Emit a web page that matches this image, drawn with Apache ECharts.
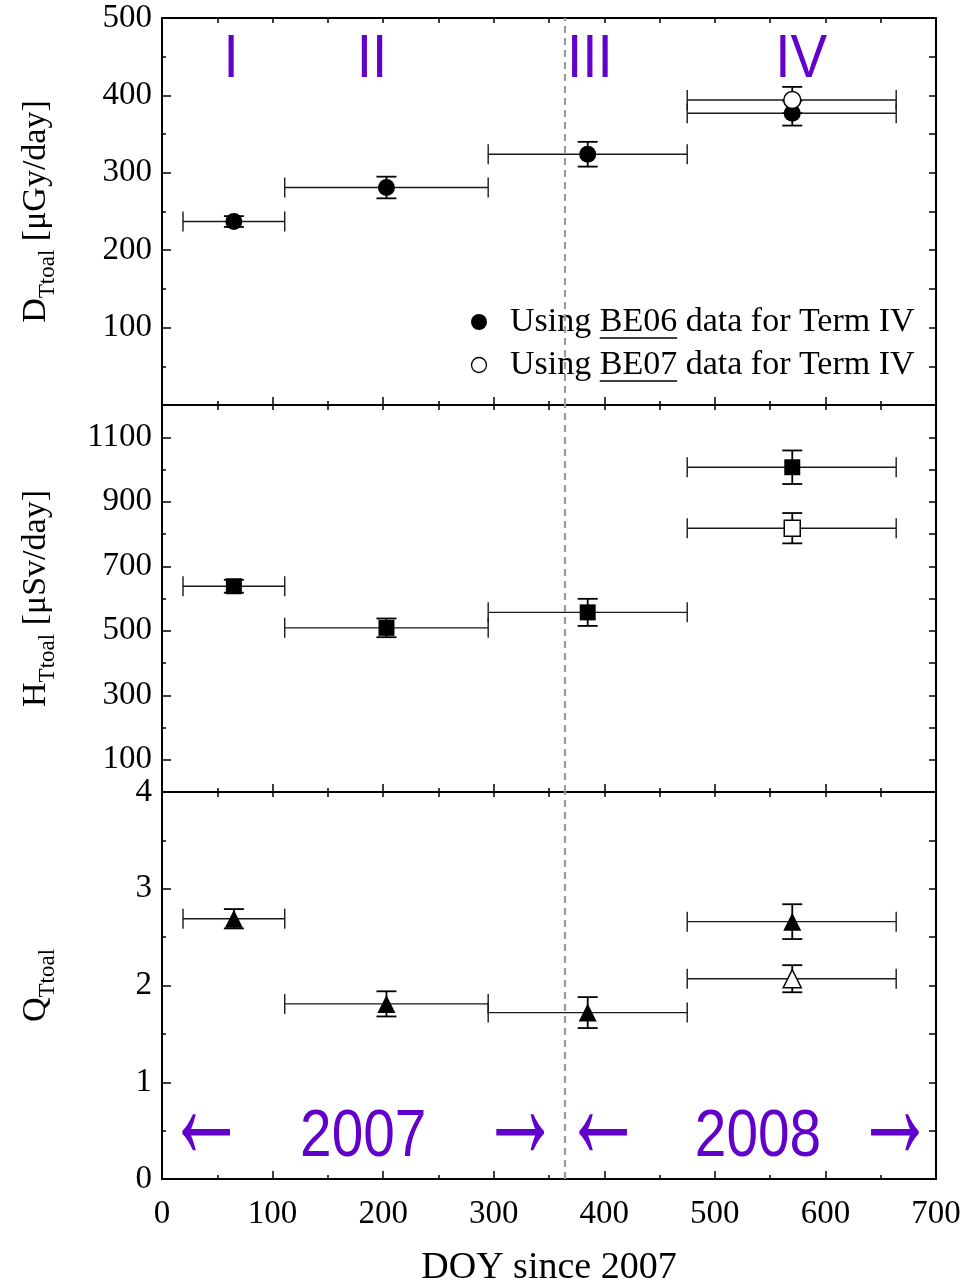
<!DOCTYPE html>
<html><head><meta charset="utf-8">
<script src="https://cdn.jsdelivr.net/npm/echarts@6/dist/echarts.min.js"></script>
<style>html,body{margin:0;padding:0;background:#fff}#c{width:963px;height:1284px}</style>
</head><body><div id="c"></div>
<script>
// ---- data ----
const xCenter = [65, 203, 385, 570];
const xLow = [19, 111, 295, 475];
const xHigh = [111, 295, 475, 664];
const doseBE06 = [237, 281, 324, 377];
const doseBE06Err = [7, 14, 16, 16];
const doseBE07 = 394, doseBE07Err = 17;
const eqBE06 = [638, 509, 557, 1007];
const eqBE06Err = [20, 29, 42, 52];
const eqBE07 = 818, eqBE07Err = 47;
const qBE06 = [2.69, 1.81, 1.72, 2.66];
const qBE06Err = [0.10, 0.13, 0.16, 0.18];
const qBE07 = 2.07, qBE07Err = 0.14;
const termLabels = ['I', 'II', 'III', 'IV'];
const termLabelX = [62.5, 190, 387, 578];
const termLabelY = 451;
const yearMarks = ['←', '2007', '→', '←', '2008', '→'];
const yearMarkX = [40, 182, 324, 399, 539, 663];
const yearMarkY = 0.48;
const boundaryX = 364;
const xTickLabels = [0, 100, 200, 300, 400, 500, 600, 700];
const hTickLabels = [100, 300, 500, 700, 900, 1100];

// ---- styles ----
const SERIF = '"Liberation Serif", "Times New Roman", serif';
const SANS = '"Liberation Sans", Arial, sans-serif';
const PURPLE = '#6200cc';

function errData(ys, errs) {
  return ys.map((y, i) => [xCenter[i], y, xLow[i], xHigh[i], y - errs[i], y + errs[i]]);
}
function errDataOne(i, y, e) { return [[xCenter[i], y, xLow[i], xHigh[i], y - e, y + e]]; }

function renderErr(params, api) {
  const x = api.value(0), y = api.value(1);
  const pL = api.coord([api.value(2), y]), pR = api.coord([api.value(3), y]);
  const pB = api.coord([x, api.value(4)]), pT = api.coord([x, api.value(5)]);
  const c = 10, cw = 10;
  const st = { stroke: '#1a1a1a', lineWidth: 1.4 };
  const sv = { stroke: '#000', lineWidth: 1.8 };
  return { type: 'group', children: [
    { type: 'line', shape: { x1: pL[0], y1: pL[1], x2: pR[0], y2: pR[1] }, style: st },
    { type: 'line', shape: { x1: pL[0], y1: pL[1] - c, x2: pL[0], y2: pL[1] + c }, style: st },
    { type: 'line', shape: { x1: pR[0], y1: pR[1] - c, x2: pR[0], y2: pR[1] + c }, style: st },
    { type: 'line', shape: { x1: pB[0], y1: pB[1], x2: pT[0], y2: pT[1] }, style: sv },
    { type: 'line', shape: { x1: pB[0] - cw, y1: pB[1], x2: pB[0] + cw, y2: pB[1] }, style: sv },
    { type: 'line', shape: { x1: pT[0] - cw, y1: pT[1], x2: pT[0] + cw, y2: pT[1] }, style: sv }
  ]};
}

function makeTextRenderer(labels, fontSize, scaleX, dy, arrowStyle) {
  return function (params, api) {
    const p = api.coord([api.value(0), api.value(1)]);
    const t = labels[params.dataIndex];
    const isArrow = t === '←' || t === '→';
    if (isArrow && arrowStyle) {
      return { type: 'text', x: p[0], y: p[1] + arrowStyle.dy, scaleX: arrowStyle.sx, scaleY: arrowStyle.sy,
        style: { text: t, fill: PURPLE, font: arrowStyle.size + 'px ' + SANS, align: 'center', verticalAlign: 'middle' } };
    }
    return { type: 'text', x: p[0], y: p[1] + dy, scaleX: scaleX,
      style: { text: t, fill: PURPLE, font: fontSize + 'px ' + SANS, align: 'center', verticalAlign: 'middle' } };
  };
}

const grids = [0, 1, 2].map(i => ({ left: 162, width: 774, top: 18 + 387 * i, height: 387, containLabel: false, outerBoundsMode: 'none' }));

const axisLine = { show: true, onZero: false, lineStyle: { color: '#000', width: 2 } };
const labelStyle = { color: '#000', fontFamily: SERIF, fontSize: 33 };

const xAxes = [];
[0, 1, 2].forEach(i => {
  xAxes.push({
    type: 'value', gridIndex: i, position: 'bottom', min: 0, max: 700, interval: 100,
    axisLine, splitLine: { show: false },
    axisTick: { show: true, inside: true, length: 8, lineStyle: { color: '#000', width: 1.5 } },
    minorTick: { show: true, splitNumber: 2, length: 4, lineStyle: { color: '#000', width: 1.5 } },
    axisLabel: { show: i === 2, ...labelStyle, margin: 19, formatter: v => xTickLabels.includes(v) ? String(v) : '' },
    name: i === 2 ? 'DOY since 2007' : '', nameLocation: 'middle', nameGap: 70,
    nameTextStyle: { color: '#000', fontFamily: SERIF, fontSize: 38 }
  });
  xAxes.push({
    type: 'value', gridIndex: i, position: 'top', min: 0, max: 700, interval: 50,
    axisLine, splitLine: { show: false },
    axisTick: { show: true, inside: true, length: 5, lineStyle: { color: '#000', width: 1.5 } },
    axisLabel: { show: false }
  });
});

const yNameRich = {
  a: { fontFamily: SERIF, fontSize: 34, color: '#000', lineHeight: 46, verticalAlign: 'middle' },
  s: { fontFamily: SERIF, fontSize: 23, color: '#000', lineHeight: 46, verticalAlign: 'bottom' }
};
const yNames = ['{a|D}{s|Ttoal}{a| [μGy/day]}', '{a|H}{s|Ttoal}{a| [μSv/day]}', '{a|Q}{s|Ttoal}'];
const yRanges = [[0, 500, 100, 50], [0, 1200, 100, 100], [0, 4, 1, 0.5]];

const yAxes = [];
[0, 1, 2].forEach(i => {
  const [mn, mx, iv, minorIv] = yRanges[i];
  const left = {
    type: 'value', gridIndex: i, position: 'left', min: mn, max: mx, interval: iv,
    axisLine, splitLine: { show: false },
    axisTick: { show: true, inside: true, length: 9, lineStyle: { color: '#000', width: 1.5 } },
    axisLabel: { show: true, ...labelStyle, margin: 10, showMinLabel: i !== 0, formatter: v => String(v) },
    name: yNames[i], nameLocation: 'middle', nameRotate: 90, nameGap: 103,
    nameTextStyle: { rich: yNameRich }
  };
  if (i === 1) {
    left.axisLabel.customValues = hTickLabels;
    left.axisTick.customValues = hTickLabels;
  } else {
    left.minorTick = { show: true, splitNumber: 2, length: 4, lineStyle: { color: '#000', width: 1.5 } };
  }
  yAxes.push(left);
  yAxes.push({
    type: 'value', gridIndex: i, position: 'right', min: mn, max: mx, interval: minorIv,
    axisLine, splitLine: { show: false },
    axisTick: { show: true, inside: true, length: 7, lineStyle: { color: '#000', width: 1.5 } },
    axisLabel: { show: false }
  });
});
// extra minor ticks for panel 2 (even hundreds)
yAxes.push({
  type: 'value', gridIndex: 1, position: 'left', min: 0, max: 1200, interval: 200,
  axisLine: { show: false }, splitLine: { show: false },
  axisTick: { show: true, inside: true, length: 4, lineStyle: { color: '#000', width: 1.5 } },
  axisLabel: { show: false }
});

const dashLine = () => ({
  silent: true, symbol: 'none', label: { show: false },
  lineStyle: { type: [7, 5], color: '#9a9a9a', width: 2.2 },
  data: [{ xAxis: boundaryX }]
});

function errSeries(i, data, ml) {
  const s = { type: 'custom', xAxisIndex: 2 * i, yAxisIndex: 2 * i, renderItem: renderErr, data, silent: true, z: 2, clip: false };
  if (ml) s.markLine = dashLine();
  return s;
}
function markSeries(i, data, symbol, size, open) {
  return {
    type: 'scatter', xAxisIndex: 2 * i, yAxisIndex: 2 * i, data, symbol, symbolSize: size, silent: true, z: 5,
    itemStyle: open ? { color: '#fff', borderColor: '#000', borderWidth: 1.5, opacity: 1 } : { color: '#000', opacity: 1 }
  };
}

const series = [
  errSeries(0, errData(doseBE06, doseBE06Err), true),
  errSeries(0, errDataOne(3, doseBE07, doseBE07Err)),
  markSeries(0, xCenter.map((x, i) => [x, doseBE06[i]]), 'circle', 17, false),
  markSeries(0, [[xCenter[3], doseBE07]], 'circle', 17, true),

  errSeries(1, errData(eqBE06, eqBE06Err), true),
  errSeries(1, errDataOne(3, eqBE07, eqBE07Err)),
  markSeries(1, xCenter.map((x, i) => [x, eqBE06[i]]), 'rect', 16, false),
  markSeries(1, [[xCenter[3], eqBE07]], 'rect', 16, true),

  errSeries(2, errData(qBE06, qBE06Err), true),
  errSeries(2, errDataOne(3, qBE07, qBE07Err)),
  markSeries(2, xCenter.map((x, i) => [x, qBE06[i]]), 'triangle', 18, false),
  markSeries(2, [[xCenter[3], qBE07]], 'triangle', 18, true),

  {
    type: 'custom', xAxisIndex: 0, yAxisIndex: 0, silent: true, z: 6,
    data: termLabelX.map(x => [x, termLabelY]),
    renderItem: makeTextRenderer(termLabels, 61, 0.9, 4, null)
  },
  {
    type: 'custom', xAxisIndex: 4, yAxisIndex: 4, silent: true, z: 6,
    data: yearMarkX.map(x => [x, yearMarkY]),
    renderItem: makeTextRenderer(yearMarks, 66, 0.86, 5, { size: 70, sx: 1.15, sy: 2.2, dy: -17 })
  }
];

// legend (drawn as graphic)
const ctx = document.createElement('canvas').getContext('2d');
ctx.font = '34px "Liberation Serif"';
const wUsing = ctx.measureText('Using ').width;
const wBE = ctx.measureText('BE06').width;
const legX = 510, legY1 = 322, legY2 = 365;
const legendGraphic = [
  { type: 'circle', shape: { cx: 479, cy: legY1, r: 8 }, style: { fill: '#000' } },
  { type: 'circle', shape: { cx: 479, cy: legY2, r: 7.5 }, style: { fill: '#fff', stroke: '#000', lineWidth: 1.3 } },
  { type: 'text', x: legX, y: legY1, style: { text: 'Using BE06 data for Term IV', font: '34px ' + SERIF, fill: '#000', verticalAlign: 'middle', align: 'left' } },
  { type: 'text', x: legX, y: legY2, style: { text: 'Using BE07 data for Term IV', font: '34px ' + SERIF, fill: '#000', verticalAlign: 'middle', align: 'left' } },
  { type: 'line', shape: { x1: legX + wUsing, y1: legY1 + 16, x2: legX + wUsing + wBE, y2: legY1 + 16 }, style: { stroke: '#000', lineWidth: 1.6 } },
  { type: 'line', shape: { x1: legX + wUsing, y1: legY2 + 16, x2: legX + wUsing + wBE, y2: legY2 + 16 }, style: { stroke: '#000', lineWidth: 1.6 } }
];

const chart = echarts.init(document.getElementById('c'), null, { renderer: 'canvas' });
chart.setOption({
  animation: false,
  backgroundColor: '#fff',
  grid: grids,
  xAxis: xAxes,
  yAxis: yAxes,
  series,
  graphic: legendGraphic
});
</script></body></html>
